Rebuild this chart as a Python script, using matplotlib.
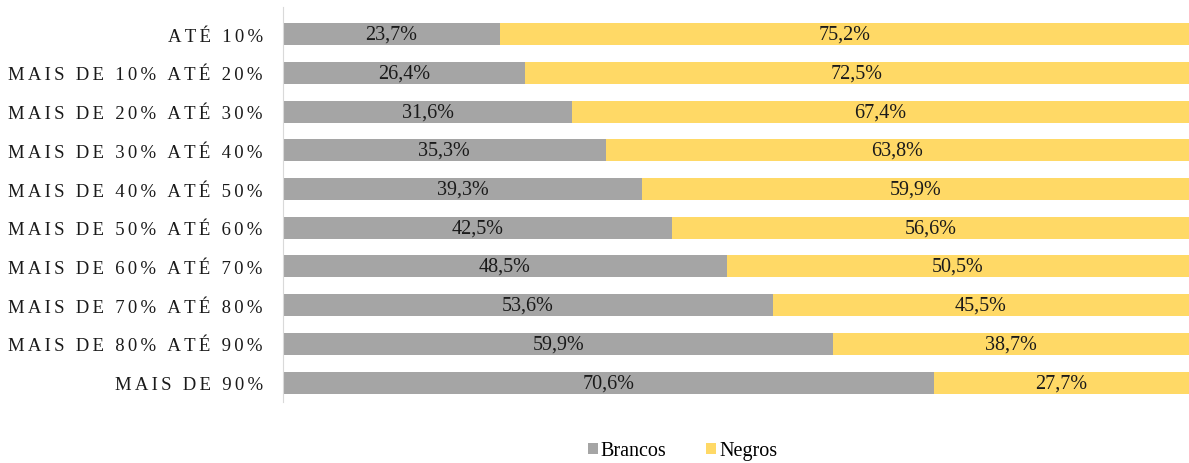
import numpy as np
import matplotlib
matplotlib.use("Agg")
import matplotlib.pyplot as plt

plt.rcParams['font.family'] = ['Liberation Serif', 'DejaVu Serif']

categorias = ["ATÉ 10%", "MAIS DE 10% ATÉ 20%", "MAIS DE 20% ATÉ 30%",
              "MAIS DE 30% ATÉ 40%", "MAIS DE 40% ATÉ 50%", "MAIS DE 50% ATÉ 60%",
              "MAIS DE 60% ATÉ 70%", "MAIS DE 70% ATÉ 80%", "MAIS DE 80% ATÉ 90%",
              "MAIS DE 90%"]
brancos = [23.7, 26.4, 31.6, 35.3, 39.3, 42.5, 48.5, 53.6, 59.9, 70.6]
negros = [75.2, 72.5, 67.4, 63.8, 59.9, 56.6, 50.5, 45.5, 38.7, 27.7]

cinza = "#A5A5A5"
amarelo = "#FFD966"

b = np.array(brancos)
n = np.array(negros)
tot = b + n
bn = b / tot * 100  # barras a 100%
nn = n / tot * 100
y = np.arange(len(categorias))

fig = plt.figure(figsize=(11.89, 4.64), dpi=100)
ax = fig.add_axes([283/1189, 1 - 403/464, 1 - 283/1189, 395/464])

ax.barh(y, bn, height=0.57, color=cinza, label="Brancos")
ax.barh(y, nn, left=bn, height=0.57, color=amarelo, label="Negros")

def fmt(v):
    return ("%.1f%%" % v).replace(".", ",")

for i in range(len(y)):
    ax.text(bn[i] / 2, y[i], fmt(b[i]), ha="center", va="center", fontsize=14.5, color="#1a1a1a")
    ax.text(bn[i] + nn[i] / 2, y[i], fmt(n[i]), ha="center", va="center", fontsize=14.5, color="#1a1a1a")

ax.set_xlim(0, 100)
ax.set_ylim(9.5, -0.7)
ax.set_xticks([])
ax.set_yticks(y)
espacado = ["\u200a\u200a".join(list(c)) for c in categorias]
ax.set_yticklabels(espacado, fontsize=13.5, color="#1a1a1a")
ax.tick_params(axis="y", length=0, pad=14.5)
for s in ["top", "right", "bottom"]:
    ax.spines[s].set_visible(False)
ax.spines["left"].set_color("#D9D9D9")

fig.legend(loc="center", bbox_to_anchor=(0.574, 1 - 452/464), ncol=2, frameon=False,
           fontsize=14.5, handlelength=0.5, handleheight=0.5, handletextpad=0.15,
           columnspacing=1.95)

fig.savefig("out.png", dpi=100)
